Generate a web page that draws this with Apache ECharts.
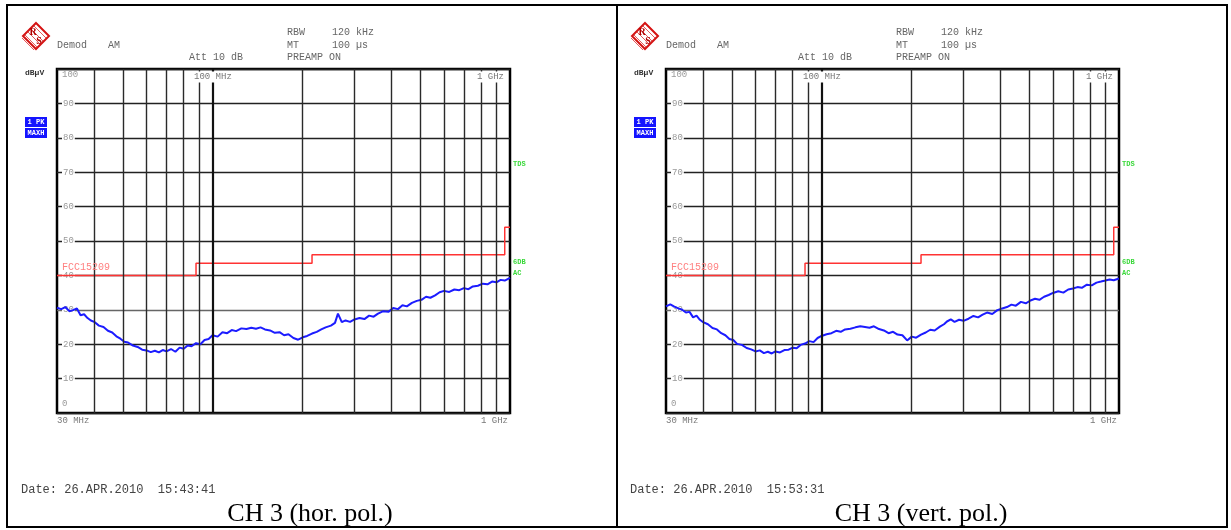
<!DOCTYPE html>
<html><head><meta charset="utf-8">
<script src="https://cdn.jsdelivr.net/npm/echarts/dist/echarts.min.js"></script>
<style>html,body{margin:0;padding:0;background:#fff}#c{width:1231px;height:530px}</style>
</head><body><div id="c"></div>
<script>
// ---- data ----
const traceFreqs = [30,31,32,33,34,35,36,37,38,39,40,41.5,43,44.5,46,47.5,49,50.5,52,54,56,58,60,62,64,66,68,70,72.5,75,77.5,80,82.5,85,88,91,94,97,100,104,108,112,116,120,125,130,135,140,145,150,156,162,168,174,180,187,194,201,208,216,224,232,240,250,258,264,272,280,290,300,312,324,336,348,360,375,390,405,420,435,450,468,486,504,522,540,560,580,600,625,650,675,700,725,750,780,810,840,870,900,930,960,1000];
const horLevels = [30.6,30.2,30.8,29.6,29.9,30.4,28.4,28.7,27.6,26.9,26.5,25.4,25.0,23.9,23.4,22.3,21.6,20.7,20.5,19.6,19.2,18.4,18.2,17.7,18.1,17.6,18.3,17.9,18.6,17.8,19.0,18.7,19.6,19.4,20.3,20.0,21.2,21.5,22.6,22.2,23.5,23.2,24.1,23.8,24.6,24.4,24.8,24.5,24.9,24.3,24.0,23.3,23.5,22.6,22.9,21.8,21.3,22.0,22.4,23.1,23.6,24.3,24.9,25.4,26.2,28.9,26.4,26.9,26.5,27.2,27.6,27.3,28.3,28.0,28.9,29.6,29.4,30.5,30.2,31.3,31.0,32.0,32.6,32.9,33.8,33.5,34.2,35.1,35.5,35.2,35.9,35.7,36.3,36.0,36.8,37.0,37.6,37.4,38.2,38.0,38.7,38.5,39.3];
const vertLevels = [31.0,31.6,30.9,30.4,30.0,29.2,29.4,27.8,28.3,27.1,26.4,25.8,24.7,24.3,23.2,22.6,21.5,21.2,20.1,19.8,18.9,18.5,17.9,18.2,17.4,17.8,17.3,17.9,17.6,18.3,18.4,19.0,18.8,19.8,20.2,20.9,20.6,21.8,22.4,22.9,23.2,23.9,23.6,24.3,24.5,24.9,25.2,25.0,24.8,25.2,24.4,24.0,23.2,23.6,22.8,22.6,21.1,22.2,21.9,22.8,23.4,24.2,24.0,25.1,25.8,26.6,27.2,26.5,27.1,26.8,27.4,28.2,27.8,28.6,29.2,28.8,29.9,30.4,30.8,31.5,31.2,32.3,31.9,32.7,33.2,32.9,33.8,34.3,34.9,35.4,35.0,35.9,36.2,36.6,36.4,37.3,37.1,37.9,38.2,38.5,38.8,38.6,39.1];
const limitFreqs = [30, 88, 216, 960, 1000];
const limitLevels = [40, 43.5, 46, 54, 54];
const gridFreqs = [40,50,60,70,80,90,100,200,300,400,500,600,700,800,900];
const limitName = 'FCC15209';
const captions = ['CH 3 (hor. pol.)', 'CH 3 (vert. pol.)'];
const dates = ['Date: 26.APR.2010  15:43:41', 'Date: 26.APR.2010  15:53:31'];
const xLabels = ['30 MHz', '100 MHz', '1 GHz'];
const unitLabel = 'dBµV';
const header = [['Demod', 'AM'], ['Att 10 dB'], ['RBW', '120 kHz'], ['MT', '100 µs'], ['PREAMP ON']];
const sideLabels = ['TDS', '6DB', 'AC'];
const traceBoxes = ['1 PK', 'MAXH'];

// ---- layout ----
const offsets = [0, 609];
const captionCenters = [310, 921];
const MONO = '"Liberation Mono", "DejaVu Sans Mono", monospace';
const chart = echarts.init(document.getElementById('c'), null, {renderer: 'canvas'});

const grids = [], xAxes = [], yAxes = [], series = [], graphics = [];

function txt(text, x, y, font, fill, extra) {
  return {type: 'text', x: x, y: y, z: 100,
    style: Object.assign({text: text, font: font, fill: fill, align: 'left', verticalAlign: 'middle'}, extra || {})};
}

offsets.forEach(function (o, i) {
  const levels = i === 0 ? horLevels : vertLevels;
  grids.push({left: 57 + o, top: 69, width: 453, height: 344, show: true,
    borderColor: '#000', borderWidth: 2.5, backgroundColor: 'transparent'});
  xAxes.push({type: 'log', logBase: 10, gridIndex: i, min: 30, max: 1000,
    axisLine: {show: false}, axisTick: {show: false}, axisLabel: {show: false}, splitLine: {show: false}});
  yAxes.push({type: 'value', gridIndex: i, min: 0, max: 100, interval: 10,
    axisLine: {show: false}, axisTick: {show: false},
    splitLine: {show: true, lineStyle: {color: ['#222','#222','#222','#666','#222','#222','#222','#222','#222','#222','#222'], width: 1.4}},
    axisLabel: {inside: true, margin: 5,
      formatter: function (v) { return v === 100 ? '{t|100}' : (v === 0 ? '{b|0}' : '{m|' + v + '}'); },
      rich: {
        t: {fontFamily: MONO, fontSize: 9, color: '#999', padding: [12, 0, 0, 0]},
        b: {fontFamily: MONO, fontSize: 9, color: '#999', padding: [0, 0, 18, 0]},
        m: {fontFamily: MONO, fontSize: 9, color: '#999', backgroundColor: '#fff', padding: [0, 1, 0, 1]}
      }}});
  // vertical grid lines
  series.push({type: 'line', xAxisIndex: i, yAxisIndex: i, data: [], z: 1, silent: true,
    markLine: {silent: true, symbol: 'none', animation: false, label: {show: false},
      lineStyle: {color: '#2a2a2a', width: 1.4, type: 'solid'},
      data: gridFreqs.map(function (f) {
        return f === 100 ? {xAxis: f, lineStyle: {color: '#111', width: 2.2, type: 'solid'}} : {xAxis: f};
      })}});
  // limit line
  series.push({type: 'line', name: limitName, xAxisIndex: i, yAxisIndex: i, z: 2, step: 'end',
    symbol: 'none', animation: false, silent: true,
    lineStyle: {color: '#ff3333', width: 1.5},
    data: limitFreqs.map(function (f, k) { return [f, limitLevels[k]]; })});
  // trace
  series.push({type: 'line', xAxisIndex: i, yAxisIndex: i, z: 3, symbol: 'none', animation: false, silent: true,
    lineStyle: {color: '#1c1cff', width: 2},
    data: traceFreqs.map(function (f, k) { return [f, levels[k]]; })});

  // ---- texts / decorations ----
  const hf = '10px ' + MONO, hc = '#666';
  graphics.push(txt(header[0][0], 57 + o, 45, hf, hc));
  graphics.push(txt(header[0][1], 108 + o, 45, hf, hc));
  graphics.push(txt(header[1][0], 189 + o, 57, hf, hc));
  graphics.push(txt(header[2][0], 287 + o, 32, hf, hc));
  graphics.push(txt(header[2][1], 332 + o, 32, hf, hc));
  graphics.push(txt(header[3][0], 287 + o, 45, hf, hc));
  graphics.push(txt(header[3][1], 332 + o, 45, hf, hc));
  graphics.push(txt(header[4][0], 287 + o, 57, hf, hc));
  graphics.push(txt(unitLabel, 25 + o, 73, 'bold 8px ' + MONO, '#333'));
  // trace boxes
  traceBoxes.forEach(function (t, k) {
    graphics.push({type: 'rect', z: 100, shape: {x: 25 + o, y: 117 + k * 11, width: 22, height: 10}, style: {fill: '#1414ff'}});
    graphics.push(txt(t, 36 + o, 122 + k * 11, 'bold 7px ' + MONO, '#fff', {align: 'center'}));
  });
  // logo
  const cx = 36 + o, cy = 36;
  graphics.push({type: 'polygon', z: 100, shape: {points: [[cx, cy - 13], [cx + 13, cy], [cx, cy + 13], [cx - 13, cy]]},
    style: {fill: '#fff', stroke: '#d41414', lineWidth: 2}});
  [-8, -5, -2, 1, 4, 7].forEach(function (d) {
    graphics.push({type: 'line', z: 100, shape: {x1: cx - 6 + d, y1: cy - 6 - d, x2: cx + 6 + d, y2: cy + 6 - d},
      style: {stroke: '#e03030', lineWidth: 0.8}});
  });
  graphics.push(txt('R', cx - 3, cy - 4, 'bold 10px "Liberation Serif", serif', '#b00000', {align: 'center'}));
  graphics.push(txt('S', cx + 3, cy + 5, 'bold 10px "Liberation Serif", serif', '#b00000', {align: 'center'}));
  // x labels
  graphics.push(txt(xLabels[1], 192 + o, 77, '9px ' + MONO, '#777', {backgroundColor: '#fff', padding: [0, 2, 2, 2]}));
  graphics.push(txt(xLabels[2], 506 + o, 77, '9px ' + MONO, '#777', {align: 'right', backgroundColor: '#fff', padding: [0, 2, 2, 6]}));
  graphics.push(txt(xLabels[0], 57 + o, 421, '9px ' + MONO, '#777'));
  graphics.push(txt(xLabels[2], 508 + o, 421, '9px ' + MONO, '#777', {align: 'right'}));
  // limit label
  graphics.push(txt(limitName, 62 + o, 267, '10px ' + MONO, '#ff8080'));
  // side labels
  graphics.push(txt(sideLabels[0], 513 + o, 164, 'bold 7px ' + MONO, '#3ad83a'));
  graphics.push(txt(sideLabels[1], 513 + o, 262, 'bold 7px ' + MONO, '#3ad83a'));
  graphics.push(txt(sideLabels[2], 513 + o, 273, 'bold 7px ' + MONO, '#3ad83a'));
  // date & caption
  graphics.push(txt(dates[i], 21 + o, 490, '12px ' + MONO, '#444'));
  graphics.push(txt(captions[i], captionCenters[i], 514, '26px "Liberation Serif", "Times New Roman", serif', '#000', {align: 'center'}));
});

// outer frame
graphics.push({type: 'rect', z: 100, shape: {x: 7, y: 5, width: 1220, height: 522}, style: {fill: 'none', stroke: '#000', lineWidth: 2}});
graphics.push({type: 'line', z: 100, shape: {x1: 617, y1: 5, x2: 617, y2: 527}, style: {stroke: '#000', lineWidth: 2}});

chart.setOption({
  backgroundColor: '#fff',
  animation: false,
  grid: grids, xAxis: xAxes, yAxis: yAxes, series: series,
  graphic: {elements: graphics}
});
</script>
</body></html>
